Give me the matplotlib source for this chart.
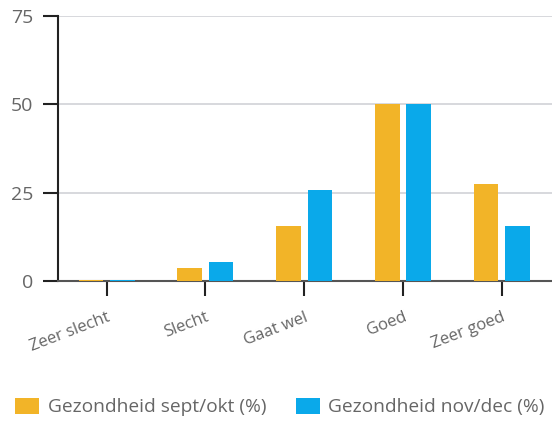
import matplotlib
matplotlib.use("Agg")
import matplotlib.pyplot as plt
import numpy as np
from matplotlib.patches import Patch

categories = ["Zeer slecht", "Slecht", "Gaat wel", "Goed", "Zeer goed"]
sept_okt = [0.5, 3.7, 15.6, 50.2, 27.4]
nov_dec = [0.5, 5.5, 25.7, 50.2, 15.6]
series_labels = ["Gezondheid sept/okt (%)", "Gezondheid nov/dec (%)"]
y_ticks = [0, 25, 50, 75]

orange = "#F2B428"
blue = "#0AA9EA"
text_gray = "#666666"

plt.rcParams["font.family"] = ["Open Sans", "DejaVu Sans"]

fig = plt.figure(figsize=(5.52, 4.21), dpi=100)
ax = fig.add_axes([0.1056, 0.3314, 0.8944, 0.6313])

x = np.arange(len(categories))
w = 0.25
off = 0.159
ax.bar(x - off, sept_okt, width=w, color=orange, zorder=5)
ax.bar(x + off, nov_dec, width=w, color=blue, zorder=5)

ax.set_xlim(-0.49, 4.51)
ax.set_ylim(0, 75)
ax.set_yticks(y_ticks)
ax.set_yticklabels([str(t) for t in y_ticks])
ax.set_xticks(x)
ax.set_xticklabels(categories, rotation=21, ha="right", rotation_mode="anchor")

for t in y_ticks[1:]:
    ax.axhline(t, color="#d4d6da", lw=1.3, zorder=1)

for s in ["top", "right"]:
    ax.spines[s].set_visible(False)
ax.spines["left"].set_color("#222222")
ax.spines["left"].set_linewidth(1.5)
ax.spines["bottom"].set_color("#555555")
ax.spines["bottom"].set_linewidth(1.5)
ax.spines["bottom"].set_zorder(4)

ax.tick_params(axis="y", direction="out", length=11, width=1.5, color="#222222",
               labelsize=14, labelcolor=text_gray, pad=7)
ax.tick_params(axis="x", direction="out", length=11, width=1.5, color="#222222",
               labelsize=12, labelcolor=text_gray, pad=9)

handles = [Patch(facecolor=orange, edgecolor="none"), Patch(facecolor=blue, edgecolor="none")]
fig.legend(handles, series_labels, loc="lower left", bbox_to_anchor=(-0.004, -0.03),
           ncol=2, frameon=False, fontsize=13.8, handlelength=1.25, handleheight=0.95,
           handletextpad=0.45, columnspacing=1.55, labelcolor=text_gray)

fig.savefig("out.png", dpi=100)
